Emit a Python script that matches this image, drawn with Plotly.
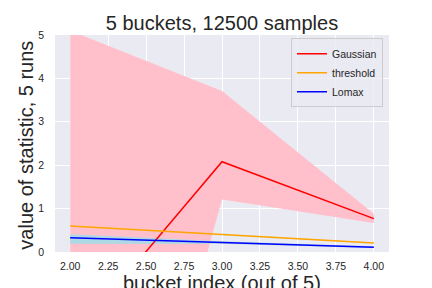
import plotly.graph_objects as go

x = [2, 3, 4]
gauss_mean = [-2.06, 2.08, 0.77]
gauss_upper = [5.1, 3.71, 0.88]
gauss_lower = [-11.4, 1.21, 0.67]
thresh_mean = [0.60, 0.41, 0.21]
thresh_upper = [0.61, 0.42, 0.22]
thresh_lower = [0.59, 0.40, 0.20]
lomax_mean = [0.33, 0.22, 0.11]
lomax_upper = [0.41, 0.25, 0.13]
lomax_lower = [0.19, 0.19, 0.09]
x_ticks = [2, 2.25, 2.5, 2.75, 3, 3.25, 3.5, 3.75, 4]
x_ticktext = ["2.00", "2.25", "2.50", "2.75", "3.00", "3.25", "3.50", "3.75", "4.00"]
y_ticks = [0, 1, 2, 3, 4, 5]

fig = go.Figure()

def band(lo, hi, color):
    fig.add_trace(go.Scatter(x=x, y=lo, mode="lines", line=dict(width=0), showlegend=False, hoverinfo="skip"))
    fig.add_trace(go.Scatter(x=x, y=hi, mode="lines", line=dict(width=0), fill="tonexty",
                             fillcolor=color, showlegend=False, hoverinfo="skip"))

band(gauss_lower, gauss_upper, "#FFC0CB")
band(thresh_lower, thresh_upper, "rgba(255,200,120,0.6)")
band(lomax_lower, lomax_upper, "#ADD8E6")

fig.add_trace(go.Scatter(x=x, y=gauss_mean, mode="lines", line=dict(color="red", width=1.5), name="Gaussian"))
fig.add_trace(go.Scatter(x=x, y=thresh_mean, mode="lines", line=dict(color="orange", width=1.5), name="threshold"))
fig.add_trace(go.Scatter(x=x, y=lomax_mean, mode="lines", line=dict(color="blue", width=1.5), name="Lomax"))

fig.update_layout(
    width=432, height=288,
    margin=dict(l=47, r=51, t=27, b=44),
    paper_bgcolor="white", plot_bgcolor="#EAEAF2",
    font=dict(family="Liberation Sans, Arial, sans-serif", color="#262626"),
    title=dict(text="5 buckets, 12500 samples", x=0.5, xref="paper", xanchor="center",
               y=0.948, yanchor="middle", font=dict(size=20, color="#262626")),
    legend=dict(x=0.982, y=0.985, xanchor="right", yanchor="top", traceorder="normal",
                bgcolor="rgba(234,234,242,0.8)", bordercolor="#CCCCCC", borderwidth=1,
                font=dict(size=10.5, color="#262626"), tracegroupgap=0, itemwidth=30),
    showlegend=True,
    annotations=[
        dict(text="bucket index (out of 5)", xref="paper", yref="paper", x=0.5, y=-0.082,
             xanchor="center", yanchor="top", showarrow=False,
             font=dict(size=20, color="#262626")),
        dict(text="value of statistic, 5 runs", xref="paper", yref="paper", x=-0.088, y=0.493,
             xanchor="center", yanchor="middle", textangle=-90, showarrow=False,
             font=dict(size=20, color="#262626")),
    ],
)
fig.update_xaxes(range=[1.9, 4.1], tickmode="array", automargin=False,
                 tickvals=x_ticks, ticktext=x_ticktext,
                 showgrid=True, gridcolor="white", gridwidth=1, zeroline=False,
                 tickfont=dict(size=10.5, color="#262626"), ticks="", ticklabelstandoff=6)
fig.update_yaxes(range=[0, 5], tickmode="array", tickvals=y_ticks, automargin=False,
                 showgrid=True, gridcolor="white", gridwidth=1, zeroline=False,
                 tickfont=dict(size=10.5, color="#262626"), ticks="", ticklabelstandoff=10)

fig.write_html("out.html")
